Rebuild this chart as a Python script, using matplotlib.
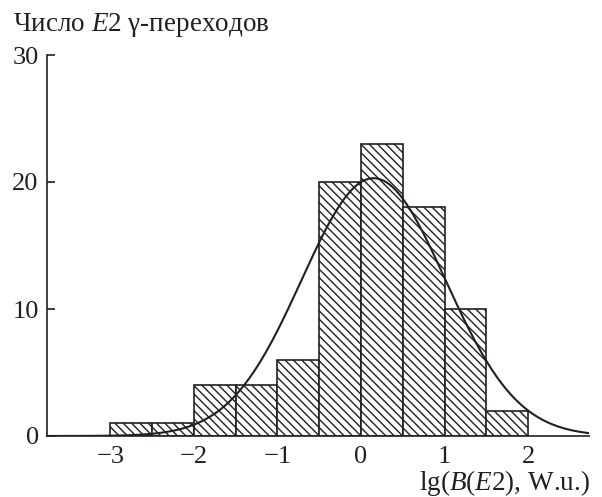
import numpy as np
import matplotlib
matplotlib.use("Agg")
import matplotlib.pyplot as plt

plt.rcParams['font.family'] = ['Liberation Serif', 'DejaVu Serif']
plt.rcParams['mathtext.fontset'] = 'custom'
plt.rcParams['mathtext.rm'] = 'Liberation Serif'
plt.rcParams['mathtext.it'] = 'Liberation Serif:italic'
plt.rcParams['hatch.linewidth'] = 1.0

# гистограмма: левые края бинов и число переходов
bin_left = [-3.0, -2.5, -2.0, -1.5, -1.0, -0.5, 0.0, 0.5, 1.0, 1.5]
counts = [1, 1, 4, 4, 6, 20, 23, 18, 10, 2]
bin_width = 0.5

# параметры гауссовой аппроксимации
fit_peak = 20.3
fit_mean = 0.15
fit_sigma = 0.86

ink = '#231f20'

fig = plt.figure(figsize=(6.02, 4.97), dpi=100)
ax = fig.add_axes([47/602, 61/497, 542/602, 381/497])

ax.bar(bin_left, counts, width=bin_width, align='edge', color='white',
       edgecolor=ink, linewidth=1.2, hatch='\\\\\\\\')

xs = np.linspace(-3.76, 2.73, 400)
ax.plot(xs, fit_peak * np.exp(-(xs - fit_mean)**2 / (2 * fit_sigma**2)),
        color=ink, lw=1.5)

ax.set_xlim(-3.76, 2.73)
ax.set_ylim(0, 30)
ax.set_xticks([-3, -2, -1, 0, 1, 2])
ax.set_xticklabels(['\u22123', '\u22122', '\u22121', '0', '1', '2'])
ax.set_yticks([0, 10, 20, 30])

for s in ['top', 'right']:
    ax.spines[s].set_visible(False)
for s in ['left', 'bottom']:
    ax.spines[s].set_color(ink)
    ax.spines[s].set_linewidth(1.2)

ax.tick_params(axis='x', length=0, pad=7, labelsize=19, colors=ink)
ax.tick_params(axis='y', direction='in', length=6, width=1.2, pad=6,
               labelsize=19, colors=ink)

fig.text(13/602, 1 - 31/497, r'Число $\mathit{E}$2 γ-переходов',
         fontsize=19.5, color=ink, ha='left', va='baseline')
fig.text(590/602, 1 - 490/497, r'lg($\mathit{B}$($\mathit{E}$2), W.u.)',
         fontsize=19.5, color=ink, ha='right', va='baseline')

fig.savefig('out.png', dpi=100)
